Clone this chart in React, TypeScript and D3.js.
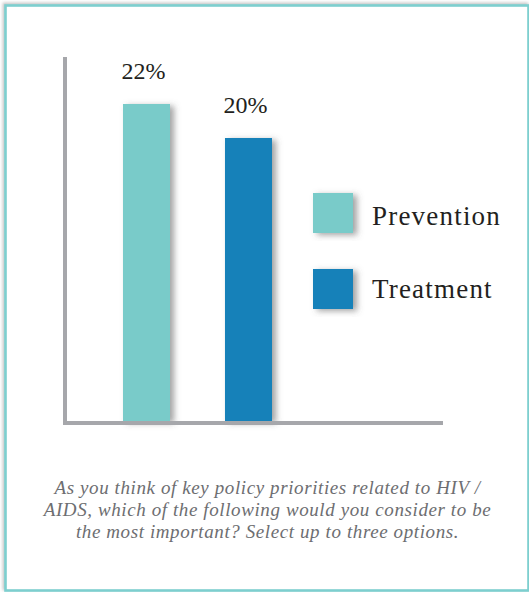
import React from "react";
import * as d3 from "d3";

const categories = ["Prevention", "Treatment"];
const values = [22, 20];
const valueLabels = ["22%", "20%"];
const colors = ["#79cbc9", "#1881b9"];
const captionLines = [
  "As you think of key policy priorities related to HIV /",
  "AIDS, which of the following would you consider to be",
  "the most important? Select up to three options.",
];

export default function App() {
  const W = 529, H = 592;
  const base = 421;
  const x = d3.scaleBand().domain(categories).range([123, 272]).paddingInner(0.539).paddingOuter(0);
  const y = d3.scaleLinear().domain([0, 22]).range([478, 104]);
  const serif = "'Liberation Serif', 'Times New Roman', serif";
  return (
    <svg width={W} height={H} style={{ position: "absolute", left: 0, top: 0, background: "#fff" }}>
      <defs>
        <filter id="sh" x="-50%" y="-20%" width="200%" height="140%">
          <feDropShadow dx="4" dy="2" stdDeviation="3" floodColor="#555" floodOpacity="0.55" />
        </filter>
        <filter id="sh2" x="-5%" y="-5%" width="110%" height="110%">
          <feDropShadow dx="-1.5" dy="-1.5" stdDeviation="1.5" floodColor="#888" floodOpacity="0.5" />
        </filter>
      </defs>
      <rect x={5.5} y={5.5} width={523} height={585} fill="#fff" stroke="#7dcfcf" strokeWidth={2.6} filter="url(#sh2)" />
      {categories.map((c, i) => (
        <rect key={c} x={x(c)} y={y(values[i])} width={x.bandwidth()} height={base - y(values[i])} fill={colors[i]} filter="url(#sh)" />
      ))}
      <line x1={65} x2={65} y1={57} y2={425} stroke="#a6a7ab" strokeWidth={4} />
      <line x1={63} x2={443} y1={423} y2={423} stroke="#a6a7ab" strokeWidth={4} />
      {categories.map((c, i) => (
        <text key={c} x={(x(c) as number) + x.bandwidth() / 2 - 3} y={y(values[i]) - 25} textAnchor="middle"
          fontFamily={serif} fontSize={24} fill="#231f20">{valueLabels[i]}</text>
      ))}
      {categories.map((c, i) => (
        <g key={c}>
          <rect x={313} y={193 + i * 76} width={40} height={40} fill={colors[i]} filter="url(#sh)" />
          <text x={372} y={225 + i * 73} fontFamily={serif} fontSize={27} letterSpacing={1.2} fill="#231f20">{c}</text>
        </g>
      ))}
      {captionLines.map((l, i) => (
        <text key={i} x={267.5} y={494 + i * 22} textAnchor="middle" fontFamily={serif} fontStyle="italic"
          fontSize={19} letterSpacing={0.6} fill="#6d6e71">{l}</text>
      ))}
    </svg>
  );
}
